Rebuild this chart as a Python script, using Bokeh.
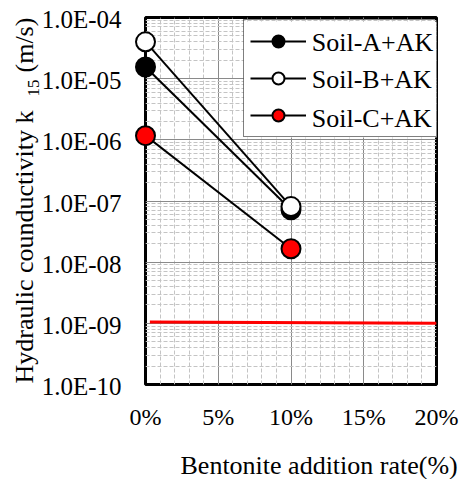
import math
from bokeh.plotting import figure
from bokeh.core.properties import value
from bokeh.models import FixedTicker, Legend, LegendItem, Range1d
from bokeh.embed import file_html
from bokeh.resources import INLINE

# ---- data ----
bentonite_rate = [0, 10]                 # %
soil_a = [1.55e-5, 7.2e-8]               # m/s
soil_b = [4.0e-5, 8.1e-8]
soil_c = [1.17e-6, 1.66e-8]
limit_x = [0.3, 20]
limit_k = [1.05e-9, 1.0e-9]

series_names = ["Soil-A+AK", "Soil-B+AK", "Soil-C+AK"]

x_ticks = [0, 5, 10, 15, 20]
x_tick_labels = ["0%", "5%", "10%", "15%", "20%"]
y_ticks = [1e-10, 1e-9, 1e-8, 1e-7, 1e-6, 1e-5, 1e-4]
y_tick_labels = ["1.0E-10", "1.0E-09", "1.0E-08", "1.0E-07",
                 "1.0E-06", "1.0E-05", "1.0E-04"]

x_label = "Bentonite addition rate(%)"
y_label_main = "Hydraulic counductivity k"
y_label_sub = "15"
y_label_unit = "(m/s)"

FONT = value("Liberation Serif")

# ---- layout (pixels) ----
W, H = 466, 479
LEFT, RIGHT, TOP, BOTTOM = 145, 30, 17, 95
FRAME_W = W - LEFT - RIGHT
FRAME_H = H - TOP - BOTTOM
X0, X1 = x_ticks[0], x_ticks[-1]
LY0, LY1 = math.log10(y_ticks[0]), math.log10(y_ticks[-1])


def px_to_data(px, py):
    """canvas pixel -> data coordinates (used only to place the legend backdrop)"""
    x = X0 + (X1 - X0) * (px - LEFT) / FRAME_W
    y = 10 ** (LY1 - (LY1 - LY0) * (py - TOP) / FRAME_H)
    return x, y


p = figure(width=W, height=H, y_axis_type="log",
           x_range=Range1d(X0, X1), y_range=Range1d(y_ticks[0], y_ticks[-1]),
           output_backend="svg", toolbar_location=None,
           min_border_left=LEFT, min_border_right=RIGHT,
           min_border_top=TOP, min_border_bottom=BOTTOM)
p.outline_line_color = "black"
p.outline_line_width = 3
p.background_fill_color = "white"
p.border_fill_color = "white"
p.xaxis.visible = False
p.yaxis.visible = False

xt = FixedTicker(ticks=x_ticks, minor_ticks=list(range(0, 21)))
yt = FixedTicker(ticks=y_ticks,
                 minor_ticks=[m * 10.0 ** e for e in range(-10, -4) for m in range(2, 10)])
p.xgrid.ticker = xt
p.ygrid.ticker = yt

for g in (p.xgrid, p.ygrid):
    g.grid_line_color = "#8a8a8a"
    g.grid_line_width = 1
    g.minor_grid_line_color = "#c4c4c4"
    g.minor_grid_line_width = 1
    g.minor_grid_line_dash = "4 2"

# legend box geometry (canvas pixels)
LG_LEFT, LG_BOTTOM, LG_W, LG_H = 243, 137, 201, 116
bx, by = px_to_data(LG_LEFT + LG_W / 2, LG_BOTTOM - LG_H / 2)
p.rect(x=[bx], y=[by], width=LG_W, height=LG_H, width_units="screen",
       height_units="screen", fill_color="white", line_color=None, level="glyph")

# tick labels (placed through the plot's scales at the tick values)
p.text(x=x_ticks, y=[y_ticks[0]] * len(x_ticks), text=x_tick_labels,
       y_offset=32, text_font=FONT, text_font_size="24px", text_color="black",
       text_align="center", text_baseline="alphabetic", level="overlay")
p.text(x=[x_ticks[0]] * len(y_ticks), y=y_ticks, text=y_tick_labels,
       x_offset=-24, y_offset=2, text_font=FONT, text_font_size="25px",
       text_color="black", text_align="right", text_baseline="alphabetic",
       level="overlay")

# requirement line
p.line(limit_x, limit_k, line_color="red", line_width=3)

# series lines
la = p.line(bentonite_rate, soil_a, line_color="black", line_width=2)
lb = p.line(bentonite_rate, soil_b, line_color="black", line_width=2)
lc = p.line(bentonite_rate, soil_c, line_color="black", line_width=2)

sa = p.scatter(bentonite_rate, soil_a, size=19, fill_color="black",
               line_color="black", line_width=2, level="overlay")
sb = p.scatter(bentonite_rate, soil_b, size=19, fill_color="white",
               line_color="black", line_width=2, level="overlay")
sc = p.scatter(bentonite_rate, soil_c, size=19, fill_color="red",
               line_color="black", line_width=2, level="overlay")

# legend border and glyphs (transparent background; labels drawn as text)
legend = Legend(items=[LegendItem(label=" ", renderers=[la, sa]),
                       LegendItem(label=" ", renderers=[lb, sb]),
                       LegendItem(label=" ", renderers=[lc, sc])],
                location=(LG_LEFT - LEFT, H - BOTTOM - LG_BOTTOM),
                orientation="vertical")
legend.label_text_font_size = "26px"
legend.glyph_width = 56
legend.glyph_height = 30
legend.label_height = 30
legend.label_width = 128
legend.label_standoff = 5
legend.spacing = 7
legend.padding = 6
legend.margin = 0
legend.border_line_color = "black"
legend.border_line_width = 1.5
legend.background_fill_alpha = 0
p.add_layout(legend, "center")

# legend labels, anchored at an interior grid point (15%, 1e-5), offset in pixels
for name, dy in zip(series_names, [-36, 1, 40]):
    p.text(x=[x_ticks[-2]], y=[y_ticks[-2]], text=[name],
           x_offset=-52, y_offset=dy, text_font=FONT,
           text_font_size="26px", text_color="black", text_align="left",
           text_baseline="alphabetic", level="overlay")

# axis titles, anchored at the frame's bottom-left corner, offset in pixels
anchor_x = [x_ticks[0]]
anchor_y = [y_ticks[0]]
p.text(anchor_x, anchor_y, text=[x_label], x_offset=35, y_offset=81,
       text_font=FONT, text_font_size="26px", text_color="black",
       text_align="left", text_baseline="alphabetic", level="overlay")
p.text(anchor_x, anchor_y, text=[y_label_main], x_offset=-121, y_offset=-1,
       angle=math.pi / 2, text_font=FONT, text_font_size="26px",
       text_color="black", text_align="left", text_baseline="alphabetic", level="overlay")
p.text(anchor_x, anchor_y, text=[y_label_sub], x_offset=-112, y_offset=-288,
       angle=math.pi / 2, text_font=FONT, text_font_size="17px",
       text_color="black", text_align="left", text_baseline="alphabetic", level="overlay")
p.text(anchor_x, anchor_y, text=[y_label_unit], x_offset=-121, y_offset=-312,
       angle=math.pi / 2, text_font=FONT, text_font_size="26px",
       text_color="black", text_align="left", text_baseline="alphabetic", level="overlay")

open("out.html", "w").write(file_html(p, INLINE))
